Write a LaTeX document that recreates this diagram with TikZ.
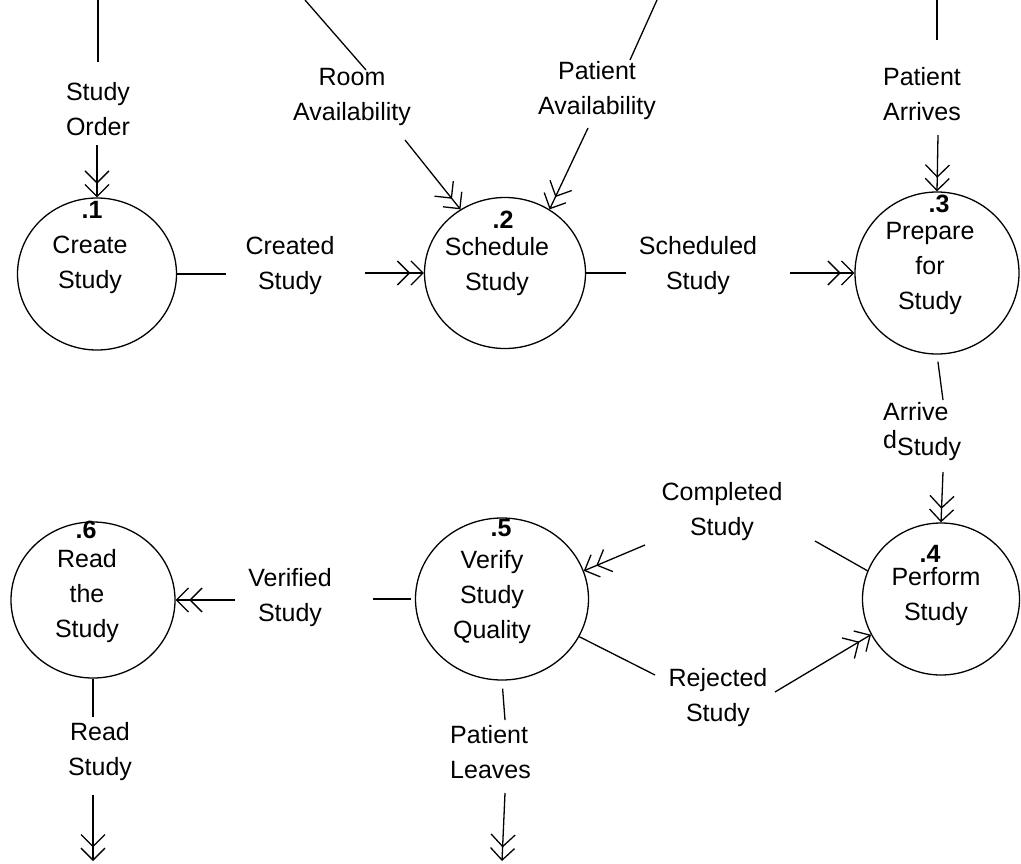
\documentclass[tikz,border=0pt]{standalone}
\usepackage{fontspec}
\setmainfont{Liberation Sans}
\usetikzlibrary{arrows.meta,shapes.geometric}
\begin{document}
\begin{tikzpicture}[x=1pt,y=-1pt,
  proc/.style={draw, ellipse, line width=1.3pt, inner sep=0pt},
  lbl/.style={align=center, font=\fontsize{25}{35}\selectfont, inner sep=0pt},
  num/.style={font=\fontsize{25}{30}\selectfont\bfseries, inner sep=0pt},
  flow/.style={line width=1.3pt},
  dflow/.style={flow, -{Straight Barb[length=12pt,width=24pt] Straight Barb[length=12pt,width=24pt]}}]
\useasboundingbox (0,0) rectangle (1021,863);
% processes
\node[proc, minimum width=159pt, minimum height=152pt] (c1) at (97,274) {};
\node[proc, minimum width=161pt, minimum height=151pt] (c2) at (505,273) {};
\node[proc, minimum width=164pt, minimum height=162pt] (c3) at (937,273) {};
\node[proc, minimum width=157pt, minimum height=152pt] (c4) at (941,599) {};
\node[proc, minimum width=173pt, minimum height=162pt] (c5) at (502,599) {};
\node[proc, minimum width=164pt, minimum height=156pt] (c6) at (93,600) {};
% process texts
\node[num] (n1) at (92,210) {.1};
\node[lbl] (t1) at (90,265) {Create\\Study};
\node[num] (n2) at (503,220) {.2};
\node[lbl] (t2) at (497,267) {Schedule\\Study};
\node[num] (n3) at (939,204) {.3};
\node[lbl] (t3) at (930,268) {Prepare\\for\\Study};
\node[num] (n4) at (930,554) {.4};
\node[lbl] (t4) at (936,597) {Perform\\Study};
\node[num] (n5) at (501,528) {.5};
\node[lbl] (t5) at (492,597) {Verify\\Study\\Quality};
\node[num] (n6) at (86,530) {.6};
\node[lbl] (t6) at (87,596) {Read\\the\\Study};
% flow labels
\node[lbl] (lorder) at (98,109) {Study\\Order};
\node[lbl] (lroom) at (352,97) {Room\\Availability};
\node[lbl] (lpav) at (597,91) {Patient\\Availability};
\node[lbl] (larr) at (922,94) {Patient\\Arrives};
\node[lbl] (lcre) at (290,266) {Created\\Study};
\node[lbl] (lsch) at (698,266) {Scheduled\\Study};
\node[lbl, align=left, anchor=west] (lard) at (883,432) {Arrive\\\raisebox{7pt}{d}Study};
\node[lbl] (lcom) at (722,512) {Completed\\Study};
\node[lbl] (lrej) at (718,698) {Rejected\\Study};
\node[lbl] (lver) at (290,598) {Verified\\Study};
\node[lbl, align=left, anchor=west] (llea) at (450,752) {Patient\\Leaves};
\node[lbl] (lread) at (100,752) {Read\\Study};
% free ends
\coordinate (o1) at (98,0);   \coordinate (o2) at (98,62);   \coordinate (o3) at (97,145);
\coordinate (r1) at (305,0);  \coordinate (r2) at (366,70);  \coordinate (r3) at (405,140);
\coordinate (p1) at (657,0);  \coordinate (p2) at (630,60);  \coordinate (p3) at (588,128);
\coordinate (a1) at (937,0);  \coordinate (a2) at (937,40);  \coordinate (a3) at (938,135);
\coordinate (cr1) at (226,274); \coordinate (cr2) at (365,273);
\coordinate (s1) at (626,273);  \coordinate (s2) at (790,273);
\coordinate (ad1) at (943,400); \coordinate (ad2) at (943,472);
\coordinate (cp1) at (815,541); \coordinate (cp2) at (645,545);
\coordinate (rj1) at (655,675); \coordinate (rj2) at (775,692);
\coordinate (v1) at (373,599);  \coordinate (v2) at (235,600);
\coordinate (pl1) at (505,720); \coordinate (pl2) at (505,793); \coordinate (pl3) at (502,861);
\coordinate (rs1) at (93,717);  \coordinate (rs2) at (93,795);  \coordinate (rs3) at (93,861);
% connectors
\draw[flow] (o1) -- (o2);  \draw[dflow] (o3) -- (c1.north);
\draw[flow] (r1) -- (r2);  \draw[dflow] (r3) -- (c2.125);
\draw[flow] (p1) -- (p2);  \draw[dflow] (p3) -- (c2.55);
\draw[flow] (a1) -- (a2);  \draw[dflow] (a3) -- (c3.north);
\draw[flow] (c1.east) -- (cr1);  \draw[dflow] (cr2) -- (c2.west);
\draw[flow] (c2.east) -- (s1);   \draw[dflow] (s2) -- (c3.west);
\draw[flow, shorten <=7pt] (c3.south) -- (ad1);  \draw[dflow] (ad2) -- (c4.north);
\draw[flow] (c4.159) -- (cp1);   \draw[dflow] (cp2) -- (c5.19);
\draw[flow] (c5.-26) -- (rj1);   \draw[dflow] (rj2) -- (c4.207);
\draw[flow, shorten <=4pt] (c5.west) -- (v1);  \draw[dflow] (v2) -- (c6.east);
\draw[flow, shorten <=8pt] (c5.south) -- (pl1); \draw[dflow] (pl2) -- (pl3);
\draw[flow] (c6.south) -- (rs1);  \draw[dflow] (rs2) -- (rs3);
\end{tikzpicture}
\end{document}
